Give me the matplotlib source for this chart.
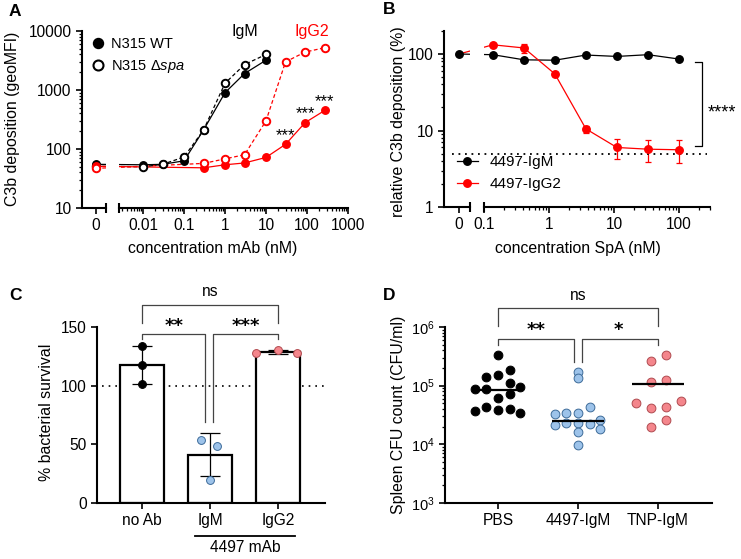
import numpy as np
import matplotlib
matplotlib.use('Agg')
import matplotlib.pyplot as plt
from matplotlib.lines import Line2D
from matplotlib.ticker import FixedLocator, LogLocator, NullFormatter, FuncFormatter, LogFormatterSciNotation

plt.rcParams['font.family'] = ['Liberation Sans', 'DejaVu Sans']
plt.rcParams['mathtext.fontset'] = 'custom'
plt.rcParams['mathtext.rm'] = 'Liberation Sans'
plt.rcParams['mathtext.it'] = 'Liberation Sans:italic'
plt.rcParams['font.size'] = 11

# ---------------- data ----------------
# Panel A
a_x_igm = [0.01, 0.03, 0.1, 0.3, 1, 3, 10]
a_igm_wt = [54, 55, 63, 210, 900, 1900, 3200]
a_igm_dspa = [50, 55, 73, 210, 1300, 2700, 4000]
a_x_igg = [0.3, 1, 3, 10, 30, 90, 270]
a_igg_wt = [48, 54, 58, 72, 120, 280, 450]
a_igg_dspa = [57, 68, 80, 300, 3000, 4400, 5200]
a_igm_wt0, a_igm_dspa0, a_igg_wt0, a_igg_dspa0 = 55, 51, 51, 47
a_sig_x = [30, 90, 270]
a_sig_y = [120, 280, 450]

# Panel B
b_x = [0.137, 0.412, 1.23, 3.7, 11.1, 33.3, 100]
b_igm = [98, 84, 83, 97, 93, 98, 86]
b_igg2 = [132, 120, 55, 10.5, 6.0, 5.7, 5.6]
b_igg2_err = [4, 17, 3, 1.1, 1.7, 1.8, 1.85]
b_igm0, b_igg20 = 100, 100
b_limit = 5

# Panel C
c_groups = ['no Ab', 'IgM', 'IgG2']
c_vals = [[134, 118, 101], [54, 49, 20], [128, 130.5, 128]]
c_xoff = [[0, 0, 0], [-0.13, 0.11, 0], [-0.32, 0, 0.28]]
c_colors = ['black', '#9DC3EA', '#F4868C']
c_edges = ['black', '#3d6b99', '#b04a4f']

# Panel D
d_groups = ['PBS', '4497-IgM', 'TNP-IgM']
d_vals = [
    [3.3e5, 1.87e5, 1.4e5, 1.5e5, 1.12e5, 8.7e4, 8.7e4, 9.5e4, 6.2e4, 7.3e4,
     4.4e4, 3.7e4, 3.9e4, 4.05e4, 3.4e4],
    [1.73e5, 1.34e5, 4.4e4, 3.3e4, 3.46e4, 3.46e4, 2.14e4, 2.34e4, 2.28e4,
     2.22e4, 2.6e4, 1.64e4, 1.82e4, 9.8e3],
    [2.63e5, 3.37e5, 1.16e5, 1.26e5, 5.1e4, 5.5e4, 4.2e4, 4.4e4, 2.6e4, 2.0e4],
]
d_xoff = [
    [0, 0.146, -0.146, 0, 0.146, -0.28, -0.146, 0.283, 0, 0.146, -0.146, -0.28, 0, 0.146, 0.283],
    [0, 0, 0.146, -0.29, -0.146, 0, -0.29, -0.146, 0, 0.146, 0.28, 0, 0.28, 0],
    [-0.083, 0.096, -0.083, 0.096, -0.28, 0.283, -0.083, 0.096, 0.096, -0.083],
]
d_center = [8.3e4, 2.5e4, 1.05e5]

# ---------------- figure ----------------
W, H = 741, 559
fig = plt.figure(figsize=(W / 100, H / 100), dpi=100)


def px_axes(x0, y0, x1, y1):
    return fig.add_axes([x0 / W, 1 - y1 / H, (x1 - x0) / W, (y1 - y0) / H])


SPW = 1.5
LFS = 11.4


def style(ax, left=True):
    for s in ['top', 'right']:
        ax.spines[s].set_visible(False)
    ax.spines['bottom'].set_linewidth(SPW)
    ax.spines['left'].set_linewidth(SPW)
    if not left:
        ax.spines['left'].set_visible(False)
        ax.tick_params(axis='y', which='both', left=False, labelleft=False)
    ax.tick_params(which='major', direction='out', length=4.5, width=1.2, labelsize=11.2, pad=3)
    ax.tick_params(which='minor', direction='out', length=2.5, width=0.9)
    ax.set_facecolor('none')


def brk(ax, xa, hpx):
    ax.plot([xa, xa], [-5 / hpx, 5 / hpx], transform=ax.transAxes, clip_on=False,
            color='k', lw=SPW, solid_capstyle='butt')


def bridge(ax0, ax1, x0, y0, x1, y1, **kw):
    d0 = ax0.transData.transform((x0, y0))
    d1 = ax1.transData.transform((x1, y1))
    p1 = ax0.transData.inverted().transform(d1)
    p0 = ax1.transData.inverted().transform(d0)
    ax0.plot([x0, p1[0]], [y0, p1[1]], **kw)
    ax1.plot([p0[0], x1], [p0[1], y1], **kw)


def ctext(ax, x, y, s, fs, yc_em, **kw):
    ax.annotate(s, (x, y), xytext=(0, -yc_em * fs), textcoords='offset points',
                ha='center', va='baseline', fontsize=fs, annotation_clip=False, **kw)


gfmt = FuncFormatter(lambda v, p: f'{v:g}')

# ================= Panel A =================
A0 = px_axes(82, 31, 106, 208)
A1 = px_axes(119, 31, 348, 208)
for ax in (A0, A1):
    ax.set_yscale('log')
    ax.set_ylim(10, 10000)
A1.set_xscale('log')
A0.set_xlim(-1.4, 1.0)
A1.set_xlim(0.0026, 1000)
style(A0)
style(A1, left=False)
A0.yaxis.set_major_locator(FixedLocator([10, 100, 1000, 10000]))
A0.yaxis.set_major_formatter(gfmt)
A0.yaxis.set_minor_locator(LogLocator(base=10, subs=np.arange(2, 10)))
A0.yaxis.set_minor_formatter(NullFormatter())
A0.set_xticks([0])
A0.set_xticklabels(['0'])
A1.xaxis.set_major_locator(FixedLocator([0.01, 0.1, 1, 10, 100, 1000]))
A1.xaxis.set_major_formatter(gfmt)
A1.xaxis.set_minor_locator(LogLocator(base=10, subs=np.arange(2, 10), numticks=20))
A1.xaxis.set_minor_formatter(NullFormatter())
brk(A0, 1, 177)
brk(A1, 0, 177)

MS = 5.4
kw_wt = dict(color='black', lw=0.9)
kw_ds = dict(color='black', lw=0.9, ls=(0, (3, 2)))
kw_rwt = dict(color='red', lw=0.9)
kw_rds = dict(color='red', lw=0.9, ls=(0, (3, 2)))

bridge(A0, A1, 0, a_igm_wt0, a_x_igm[0], a_igm_wt[0], **kw_wt)
bridge(A0, A1, 0, a_igm_dspa0, a_x_igm[0], a_igm_dspa[0], **kw_ds)
bridge(A0, A1, 0, a_igg_wt0, a_x_igg[0], a_igg_wt[0], **kw_rwt)
bridge(A0, A1, 0, a_igg_dspa0, a_x_igg[0], a_igg_dspa[0], **kw_rds)

A1.plot(a_x_igm, a_igm_wt, marker='o', ms=MS, mfc='black', mec='black', **kw_wt)
A1.plot(a_x_igm, a_igm_dspa, marker='o', ms=MS, mfc='white', mec='black', mew=1.4, **kw_ds)
A1.plot(a_x_igg, a_igg_wt, marker='o', ms=MS, mfc='red', mec='red', **kw_rwt)
A1.plot(a_x_igg, a_igg_dspa, marker='o', ms=MS, mfc='white', mec='red', mew=1.4, **kw_rds)
A0.plot([0], [a_igm_wt0], marker='o', ms=MS, mfc='black', mec='black', clip_on=False)
A0.plot([0], [a_igm_dspa0], marker='o', ms=MS, mfc='white', mec='black', mew=1.4, clip_on=False)
A0.plot([0], [a_igg_wt0], marker='o', ms=MS, mfc='red', mec='red', clip_on=False)
A0.plot([0], [a_igg_dspa0], marker='o', ms=MS, mfc='white', mec='red', mew=1.4, clip_on=False)

for x, y in zip(a_sig_x, a_sig_y):
    A1.annotate('***', (x, y), xytext=(0, 3), textcoords='offset points',
                ha='center', va='baseline', fontsize=12)

A1.text(0.55, 0.995, 'IgM', transform=A1.transAxes, ha='center', va='center', fontsize=11.5)
A1.text(0.843, 0.995, 'IgG2', transform=A1.transAxes, ha='center', va='center',
        fontsize=11.5, color='red')

hA = [Line2D([], [], marker='o', ls='none', ms=7.2, mfc='black', mec='black'),
      Line2D([], [], marker='o', ls='none', ms=7.2, mfc='white', mec='black', mew=1.5)]
A1.legend(hA, ['N315 WT', 'N315 Δ$\\mathit{spa}$'], loc='upper left',
          bbox_to_anchor=(91 / W, 1 - 37 / H), bbox_transform=fig.transFigure,
          frameon=False, handlelength=1.0, handletextpad=0.4, labelspacing=0.5,
          borderpad=0, borderaxespad=0, fontsize=10.5)

fig.text(13 / W, 1 - 119 / H, 'C3b deposition (geoMFI)', rotation=90,
         ha='center', va='center', fontsize=LFS)
fig.text(213 / W, 1 - 248 / H, 'concentration mAb (nM)', ha='center', va='center', fontsize=LFS)

# ================= Panel B =================
B0 = px_axes(444, 31, 470, 207)
B1 = px_axes(484, 31, 710, 207)
for ax in (B0, B1):
    ax.set_yscale('log')
    ax.set_ylim(1, 200)
B1.set_xscale('log')
B0.set_xlim(-15 / 11, 1)
B1.set_xlim(0.1, 300)
style(B0)
style(B1, left=False)
B0.yaxis.set_major_locator(FixedLocator([1, 10, 100]))
B0.yaxis.set_major_formatter(gfmt)
B0.yaxis.set_minor_locator(LogLocator(base=10, subs=np.arange(2, 10)))
B0.yaxis.set_minor_formatter(NullFormatter())
B0.set_xticks([0])
B0.set_xticklabels(['0'])
B1.xaxis.set_major_locator(FixedLocator([0.1, 1, 10, 100]))
B1.xaxis.set_major_formatter(gfmt)
B1.xaxis.set_minor_locator(LogLocator(base=10, subs=np.arange(2, 10), numticks=20))
B1.xaxis.set_minor_formatter(NullFormatter())
brk(B0, 1, 176)
brk(B1, 0, 176)

MSB = 5.4
bridge(B0, B1, 0, b_igg20, b_x[0], b_igg2[0], color='red', lw=0.9)
bridge(B0, B1, 0, b_igm0, b_x[0], b_igm[0], color='black', lw=0.9)
B0.plot([0], [b_igm0], marker='o', ms=MSB, color='black', clip_on=False)

B1.plot(b_x, b_igm, marker='o', ms=MSB, color='black', lw=0.9)
B1.errorbar(b_x, b_igg2, yerr=b_igg2_err, marker='o', ms=MSB, color='red', lw=0.9,
            elinewidth=0.9, capsize=2.5, capthick=0.9)

B1.plot([-0.14, 0.987], [b_limit, b_limit], transform=B1.get_yaxis_transform(),
        clip_on=False, color='black', lw=1.3, ls=(0, (1, 2.6)))
B1.plot([176, 226, 226, 176], [79, 79, 6.2, 6.2], color='black', lw=0.9, clip_on=False)
ctext(B1, 460, 20, '****', 13, 0.58)

hB = [Line2D([], [], marker='o', ms=MSB, color='black', lw=0.9),
      Line2D([], [], marker='o', ms=MSB, color='red', lw=0.9)]
B1.legend(hB, ['4497-IgM', '4497-IgG2'], loc='upper left',
          bbox_to_anchor=(457 / W, 1 - 155 / H), bbox_transform=fig.transFigure,
          frameon=False, handlelength=1.35, handletextpad=0.8, labelspacing=0.55,
          borderpad=0, borderaxespad=0, fontsize=11)

fig.text(399 / W, 1 - 122 / H, 'relative C3b deposition (%)', rotation=90,
         ha='center', va='center', fontsize=LFS)
fig.text(578 / W, 1 - 248 / H, 'concentration SpA (nM)', ha='center', va='center', fontsize=LFS)

# ================= Panel C =================
C = px_axes(97, 327, 325, 503)
C.set_xlim(-0.66, 2.69)
C.set_ylim(0, 150)
style(C)
C.set_yticks([0, 50, 100, 150])
C.set_xticks(range(len(c_groups)))
C.set_xticklabels(c_groups)

c_mean = [np.mean(v) for v in c_vals]
c_sd = [np.std(v, ddof=1) for v in c_vals]
C.plot([0.02, 1.0], [100, 100], transform=C.get_yaxis_transform(), color='black',
       lw=1.2, ls=(0, (1, 3)), zorder=1)
C.bar(range(3), c_mean, width=0.65, facecolor='white', edgecolor='black', lw=1.6, zorder=2)
C.errorbar(range(3), c_mean, yerr=c_sd, fmt='none', ecolor='black', elinewidth=0.9,
           capsize=7, capthick=0.9, zorder=3)
for i, (vals, offs) in enumerate(zip(c_vals, c_xoff)):
    C.scatter(np.array(offs) + i, vals, s=32, color=c_colors[i], edgecolors=c_edges[i],
              linewidths=0.7, zorder=4, clip_on=False)

bk = dict(color='#444444', lw=0.9, clip_on=False)
C.plot([0, 0, 2, 2], [153.6, 168.75, 168.75, 153.6], **bk)
C.plot([0, 0, 0.93, 0.93], [139.5, 144, 144, 69], **bk)
C.plot([1.04, 1.04, 2, 2], [69, 144, 144, 139.5], **bk)
C.text(1, 176.4, 'ns', ha='center', va='baseline', fontsize=11.2, clip_on=False)
ctext(C, 0.47, 154.5, '**', 13, 0.53, family='DejaVu Sans', fontweight='bold')
ctext(C, 1.525, 154.5, '***', 13, 0.53, family='DejaVu Sans', fontweight='bold')

C.plot([0.43, 0.868], [-0.1875, -0.1875], transform=C.transAxes, clip_on=False,
       color='black', lw=1.3)
C.text(0.649, -0.25, '4497 mAb', transform=C.transAxes, ha='center', va='center', fontsize=11.2)
fig.text(47 / W, 1 - 412 / H, '% bacterial survival', rotation=90,
         ha='center', va='center', fontsize=LFS)

# ================= Panel D =================
D = px_axes(445, 327, 712, 503)
D.set_yscale('log')
D.set_xlim(-0.66, 2.675)
D.set_ylim(1e3, 1e6)
style(D)
D.yaxis.set_major_locator(FixedLocator([1e3, 1e4, 1e5, 1e6]))
D.yaxis.set_major_formatter(LogFormatterSciNotation())
D.yaxis.set_minor_locator(LogLocator(base=10, subs=np.arange(2, 10)))
D.yaxis.set_minor_formatter(NullFormatter())
D.tick_params(axis='y', labelsize=10.5)
D.set_xticks(range(len(d_groups)))
D.set_xticklabels(d_groups)

for i, (vals, offs) in enumerate(zip(d_vals, d_xoff)):
    D.scatter(np.array(offs) + i, vals, s=40, color=c_colors[i], edgecolors=c_edges[i],
              linewidths=0.7, zorder=3)
D.hlines(d_center, np.arange(3) - 0.32, np.arange(3) + 0.32, color='black', lw=1.6, zorder=4)

D.plot([0, 0, 2, 2], [1.04e6, 2.1e6, 2.1e6, 1.04e6], **bk)
D.plot([0, 0, 0.95, 0.95], [4.9e5, 6.2e5, 6.2e5, 2.5e5], **bk)
D.plot([1.05, 1.05, 2, 2], [2.5e5, 6.2e5, 6.2e5, 4.9e5], **bk)
D.text(1, 2.9e6, 'ns', ha='center', va='baseline', fontsize=11.2, clip_on=False)
ctext(D, 0.48, 1.06e6, '**', 13, 0.53, family='DejaVu Sans', fontweight='bold')
ctext(D, 1.5, 1.06e6, '*', 13, 0.53, family='DejaVu Sans', fontweight='bold')

fig.text(398 / W, 1 - 415 / H, 'Spleen CFU count (CFU/ml)', rotation=90,
         ha='center', va='center', fontsize=LFS)

# panel letters
for lab, x, y in [('A', 15, 12), ('B', 389, 10), ('C', 15, 295), ('D', 389, 295)]:
    fig.text(x / W, 1 - y / H, lab, ha='center', va='center', fontsize=12.5, fontweight='bold')

fig.savefig('out.png', dpi=100)
